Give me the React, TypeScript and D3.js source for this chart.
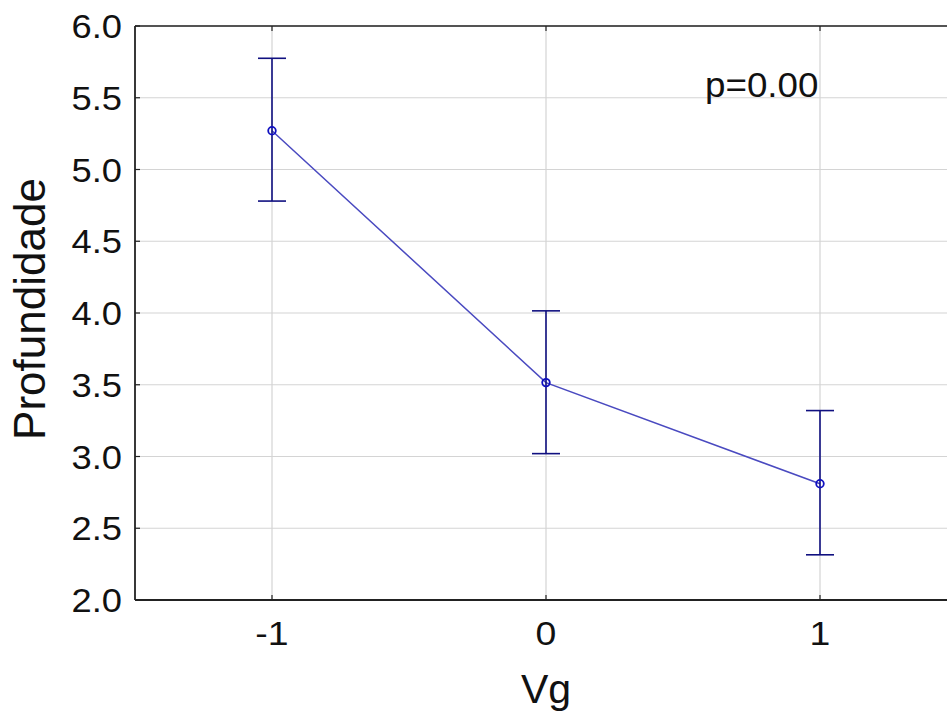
import React from "react";
import * as d3 from "d3";

const categories = [-1, 0, 1];
const means = [5.27, 3.515, 2.81];
const upper = [5.775, 4.015, 3.32];
const lower = [4.78, 3.02, 2.315];
const yTicks = [2.0, 2.5, 3.0, 3.5, 4.0, 4.5, 5.0, 5.5, 6.0];
const xTicks = [-1, 0, 1];
const xLabel = "Vg";
const yLabel = "Profundidade";
const annotation = "p=0.00";

const W = 947;
const H = 715;
const left = 135;
const top = 26;
const bottom = 600;
const unitX = 274;

export default function App() {
  const x = d3.scaleLinear().domain([-1.5, 1.5]).range([left, left + 3 * unitX]);
  const y = d3.scaleLinear().domain([2, 6]).range([bottom, top]);
  const line = d3
    .line<number>()
    .x((_, i) => x(categories[i]))
    .y((d) => y(d));
  const font = "'Liberation Sans', Arial, sans-serif";
  const right = W + 20;
  return (
    <svg
      width={W}
      height={H}
      style={{ position: "absolute", left: 0, top: 0, background: "#fff" }}
      fontFamily={font}
    >
      <rect x={0} y={0} width={W} height={H} fill="#fff" />
      {/* grid */}
      {yTicks.map((t) => (
        <line key={"gy" + t} x1={left} x2={right} y1={y(t)} y2={y(t)} stroke="#d4d4d4" strokeWidth={1.2} />
      ))}
      {xTicks.map((t) => (
        <line key={"gx" + t} x1={x(t)} x2={x(t)} y1={top} y2={bottom} stroke="#d4d4d4" strokeWidth={1.2} />
      ))}
      {/* frame */}
      <line x1={left} x2={right} y1={top} y2={top} stroke="#222" strokeWidth={1.6} />
      <line x1={left} x2={right} y1={bottom} y2={bottom} stroke="#222" strokeWidth={1.8} />
      <line x1={left} x2={left} y1={top} y2={bottom} stroke="#222" strokeWidth={1.8} />
      {/* ticks */}
      {yTicks.map((t) => (
        <line key={"ty" + t} x1={left} x2={left + 5} y1={y(t)} y2={y(t)} stroke="#222" strokeWidth={1.2} />
      ))}
      {xTicks.map((t) => (
        <g key={"tx" + t}>
          <line x1={x(t)} x2={x(t)} y1={bottom} y2={bottom - 5} stroke="#222" strokeWidth={1.2} />
          <line x1={x(t)} x2={x(t)} y1={top} y2={top + 5} stroke="#222" strokeWidth={1.2} />
        </g>
      ))}
      {/* tick labels */}
      {yTicks.map((t) => (
        <text
          key={"ly" + t}
          x={0}
          y={0}
          transform={`translate(122,${y(t) + 12}) scale(1.1,1)`}
          textAnchor="end"
          fontSize={33}
          fill="#111"
        >
          {t.toFixed(1)}
        </text>
      ))}
      {xTicks.map((t) => (
        <text
          key={"lx" + t}
          x={0}
          y={0}
          transform={`translate(${x(t)},645) scale(1.1,1)`}
          textAnchor="middle"
          fontSize={34}
          fill="#111"
        >
          {String(t)}
        </text>
      ))}
      {/* axis titles */}
      <text
        transform={`translate(45,309) rotate(-90)`}
        textAnchor="middle"
        fontSize={44}
        fill="#111"
      >
        {yLabel}
      </text>
      <text x={x(0)} y={703} textAnchor="middle" fontSize={41} fill="#111">
        {xLabel}
      </text>
      <text x={0} y={0} transform="translate(705,97) scale(1.05,1)" fontSize={35} fill="#111">
        {annotation}
      </text>
      {/* line */}
      <path d={line(means) || ""} fill="none" stroke="#4a4ac0" strokeWidth={1.5} />
      {/* error bars */}
      {categories.map((c, i) => (
        <g key={"eb" + c} stroke="#101080" strokeWidth={1.6}>
          <line x1={x(c)} x2={x(c)} y1={y(upper[i])} y2={y(lower[i])} />
          <line x1={x(c) - 14} x2={x(c) + 14} y1={y(upper[i])} y2={y(upper[i])} />
          <line x1={x(c) - 14} x2={x(c) + 14} y1={y(lower[i])} y2={y(lower[i])} />
        </g>
      ))}
      {/* markers */}
      {categories.map((c, i) => (
        <circle key={"m" + c} cx={x(c)} cy={y(means[i])} r={3.8} fill="none" stroke="#1010c0" strokeWidth={1.8} />
      ))}
    </svg>
  );
}
